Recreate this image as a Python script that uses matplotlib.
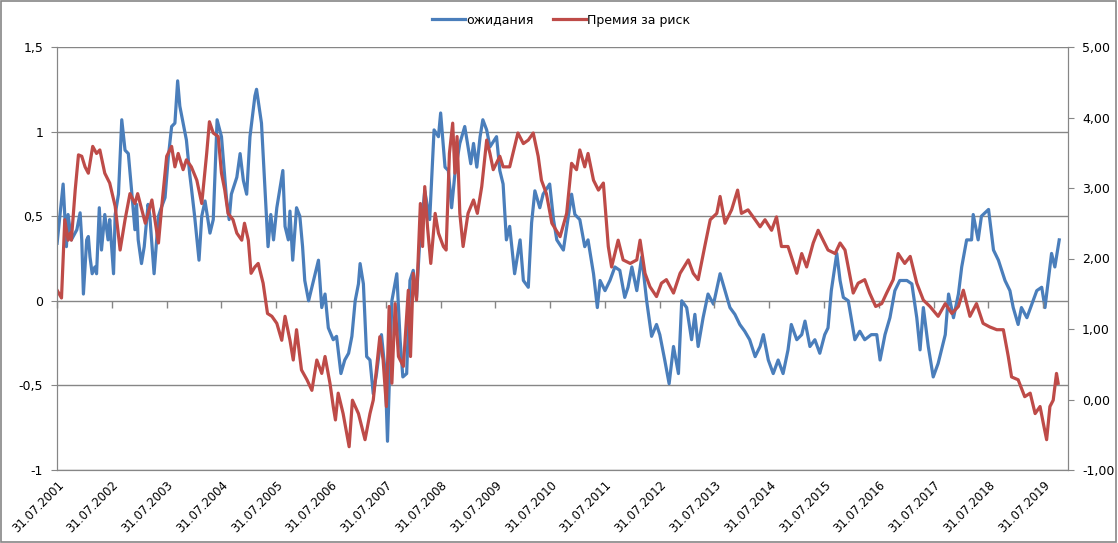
import matplotlib
matplotlib.use("Agg")
import matplotlib.pyplot as plt
from matplotlib.ticker import FuncFormatter
from matplotlib.patches import Rectangle

# ожидания (left axis), (decimal year, value)
blue_pts = [
    (2001.58, 0.34), (2001.69, 0.69), (2001.75, 0.32), (2001.78, 0.51), (2001.84, 0.36),
    (2001.94, 0.42), (2002.00, 0.52), (2002.03, 0.36), (2002.06, 0.04), (2002.12, 0.36),
    (2002.15, 0.38), (2002.18, 0.26), (2002.22, 0.16), (2002.27, 0.20), (2002.30, 0.16),
    (2002.35, 0.55), (2002.39, 0.30), (2002.45, 0.51), (2002.51, 0.36), (2002.54, 0.48),
    (2002.61, 0.16), (2002.64, 0.51), (2002.70, 0.63), (2002.76, 1.07), (2002.82, 0.89),
    (2002.88, 0.87), (2002.94, 0.65), (2003.00, 0.42), (2003.03, 0.57), (2003.06, 0.36),
    (2003.12, 0.22), (2003.17, 0.32), (2003.24, 0.57), (2003.27, 0.51), (2003.35, 0.16),
    (2003.43, 0.50), (2003.47, 0.54), (2003.55, 0.61), (2003.61, 0.85), (2003.67, 1.03),
    (2003.73, 1.05), (2003.78, 1.30), (2003.82, 1.15), (2003.88, 1.05), (2003.94, 0.95),
    (2004.00, 0.75), (2004.03, 0.67), (2004.09, 0.50), (2004.17, 0.24), (2004.22, 0.50),
    (2004.28, 0.59), (2004.37, 0.40), (2004.43, 0.48), (2004.50, 1.07), (2004.58, 0.97),
    (2004.67, 0.61), (2004.72, 0.48), (2004.76, 0.63), (2004.86, 0.73), (2004.92, 0.87),
    (2004.98, 0.71), (2005.04, 0.63), (2005.10, 0.97), (2005.19, 1.21), (2005.22, 1.25),
    (2005.31, 1.05), (2005.37, 0.69), (2005.43, 0.32), (2005.48, 0.51), (2005.53, 0.36),
    (2005.59, 0.55), (2005.63, 0.63), (2005.70, 0.77), (2005.74, 0.44), (2005.80, 0.36),
    (2005.83, 0.53), (2005.88, 0.24), (2005.95, 0.55), (2006.01, 0.50), (2006.06, 0.32),
    (2006.10, 0.12), (2006.17, 0.00), (2006.26, 0.12), (2006.35, 0.24), (2006.41, -0.04),
    (2006.47, 0.04), (2006.53, -0.16), (2006.62, -0.23), (2006.68, -0.21), (2006.76, -0.43),
    (2006.83, -0.35), (2006.90, -0.31), (2006.96, -0.21), (2007.02, 0.00), (2007.08, 0.10),
    (2007.11, 0.22), (2007.17, 0.10), (2007.23, -0.33), (2007.29, -0.35), (2007.35, -0.55),
    (2007.41, -0.43), (2007.50, -0.20), (2007.57, -0.43), (2007.61, -0.83), (2007.69, 0.00),
    (2007.78, 0.16), (2007.84, -0.23), (2007.89, -0.45), (2007.96, -0.43), (2008.02, 0.12),
    (2008.08, 0.18), (2008.14, 0.02), (2008.20, 0.36), (2008.29, 0.65), (2008.38, 0.48),
    (2008.46, 1.01), (2008.54, 0.97), (2008.58, 1.11), (2008.66, 0.79), (2008.72, 0.77),
    (2008.78, 0.55), (2008.84, 0.75), (2008.93, 0.93), (2009.02, 1.03), (2009.13, 0.81),
    (2009.18, 0.93), (2009.24, 0.79), (2009.30, 0.97), (2009.35, 1.07), (2009.42, 1.01),
    (2009.48, 0.91), (2009.60, 0.97), (2009.66, 0.77), (2009.72, 0.69), (2009.78, 0.36),
    (2009.84, 0.44), (2009.93, 0.16), (2010.03, 0.36), (2010.09, 0.12), (2010.18, 0.08),
    (2010.24, 0.46), (2010.30, 0.65), (2010.39, 0.55), (2010.45, 0.63), (2010.57, 0.69),
    (2010.64, 0.48), (2010.70, 0.36), (2010.82, 0.30), (2010.97, 0.63), (2011.03, 0.51),
    (2011.12, 0.48), (2011.21, 0.32), (2011.27, 0.36), (2011.37, 0.16), (2011.44, -0.04),
    (2011.49, 0.12), (2011.58, 0.06), (2011.67, 0.12), (2011.76, 0.20), (2011.85, 0.18),
    (2011.94, 0.02), (2012.00, 0.08), (2012.07, 0.20), (2012.16, 0.06), (2012.25, 0.26),
    (2012.34, 0.00), (2012.43, -0.21), (2012.52, -0.14), (2012.58, -0.20), (2012.67, -0.35),
    (2012.75, -0.49), (2012.83, -0.27), (2012.92, -0.43), (2012.98, 0.00), (2013.07, -0.04),
    (2013.16, -0.23), (2013.22, -0.08), (2013.28, -0.27), (2013.37, -0.10), (2013.46, 0.04),
    (2013.56, -0.02), (2013.68, 0.16), (2013.77, 0.06), (2013.86, -0.04), (2013.95, -0.08),
    (2014.04, -0.14), (2014.13, -0.18), (2014.22, -0.23), (2014.32, -0.33), (2014.41, -0.27),
    (2014.47, -0.20), (2014.56, -0.35), (2014.65, -0.43), (2014.74, -0.35), (2014.83, -0.43),
    (2014.92, -0.29), (2014.98, -0.14), (2015.08, -0.23), (2015.17, -0.20), (2015.23, -0.12),
    (2015.32, -0.27), (2015.41, -0.23), (2015.50, -0.31), (2015.59, -0.20), (2015.65, -0.16),
    (2015.71, 0.06), (2015.81, 0.28), (2015.87, 0.12), (2015.93, 0.02), (2016.02, 0.00),
    (2016.14, -0.23), (2016.23, -0.18), (2016.32, -0.23), (2016.44, -0.20), (2016.54, -0.20),
    (2016.60, -0.35), (2016.69, -0.20), (2016.78, -0.10), (2016.87, 0.06), (2016.96, 0.12),
    (2017.09, 0.12), (2017.18, 0.10), (2017.27, -0.10), (2017.33, -0.29), (2017.39, -0.04),
    (2017.48, -0.27), (2017.57, -0.45), (2017.66, -0.37), (2017.79, -0.20), (2017.85, 0.04),
    (2017.94, -0.10), (2018.03, 0.04), (2018.09, 0.20), (2018.18, 0.36), (2018.27, 0.36),
    (2018.30, 0.51), (2018.39, 0.36), (2018.45, 0.50), (2018.58, 0.54), (2018.67, 0.30),
    (2018.76, 0.24), (2018.88, 0.12), (2018.97, 0.06), (2019.03, -0.04), (2019.12, -0.14),
    (2019.18, -0.04), (2019.28, -0.10), (2019.37, -0.02), (2019.46, 0.06), (2019.55, 0.08),
    (2019.61, -0.04), (2019.67, 0.12), (2019.73, 0.28), (2019.79, 0.20), (2019.87, 0.36),
]

# Премия за риск (right axis), (decimal year, value)
red_pts = [
    (2001.58, 1.55), (2001.66, 1.44), (2001.72, 2.55), (2001.78, 2.26), (2001.82, 2.36),
    (2001.84, 2.26), (2001.91, 2.97), (2001.97, 3.47), (2002.03, 3.45), (2002.09, 3.30),
    (2002.15, 3.21), (2002.23, 3.59), (2002.30, 3.49), (2002.36, 3.54), (2002.45, 3.21),
    (2002.54, 3.07), (2002.64, 2.74), (2002.73, 2.12), (2002.82, 2.55), (2002.91, 2.92),
    (2003.00, 2.78), (2003.05, 2.92), (2003.19, 2.50), (2003.31, 2.83), (2003.43, 2.22),
    (2003.49, 2.74), (2003.58, 3.45), (2003.67, 3.59), (2003.73, 3.30), (2003.79, 3.49),
    (2003.88, 3.26), (2003.94, 3.40), (2004.03, 3.30), (2004.13, 3.11), (2004.22, 2.78),
    (2004.31, 3.49), (2004.36, 3.94), (2004.43, 3.78), (2004.52, 3.73), (2004.58, 3.21),
    (2004.64, 2.97), (2004.70, 2.64), (2004.79, 2.55), (2004.86, 2.36), (2004.95, 2.26),
    (2005.00, 2.50), (2005.07, 2.26), (2005.12, 1.79), (2005.19, 1.88), (2005.25, 1.93),
    (2005.34, 1.65), (2005.42, 1.22), (2005.50, 1.18), (2005.59, 1.08), (2005.68, 0.84),
    (2005.74, 1.18), (2005.83, 0.84), (2005.89, 0.56), (2005.95, 0.99), (2006.04, 0.42),
    (2006.14, 0.28), (2006.23, 0.13), (2006.32, 0.56), (2006.41, 0.37), (2006.47, 0.61),
    (2006.56, 0.23), (2006.62, -0.10), (2006.66, -0.29), (2006.71, 0.09), (2006.80, -0.20),
    (2006.91, -0.67), (2006.97, -0.01), (2007.08, -0.20), (2007.17, -0.48), (2007.20, -0.57),
    (2007.29, -0.20), (2007.35, -0.01), (2007.47, 0.89), (2007.53, 0.56), (2007.59, -0.10),
    (2007.64, 1.32), (2007.69, 0.23), (2007.75, 1.36), (2007.81, 0.61), (2007.90, 0.47),
    (2007.99, 1.55), (2008.03, 0.61), (2008.08, 1.79), (2008.14, 1.41), (2008.21, 2.78),
    (2008.25, 2.17), (2008.29, 3.02), (2008.34, 2.45), (2008.40, 1.93), (2008.48, 2.64),
    (2008.54, 2.36), (2008.63, 2.17), (2008.68, 2.12), (2008.74, 3.49), (2008.80, 3.92),
    (2008.84, 3.21), (2008.88, 3.73), (2008.93, 2.64), (2008.99, 2.17), (2009.08, 2.64),
    (2009.18, 2.83), (2009.25, 2.64), (2009.33, 3.02), (2009.42, 3.68), (2009.48, 3.49),
    (2009.54, 3.26), (2009.66, 3.45), (2009.72, 3.30), (2009.84, 3.30), (2009.99, 3.78),
    (2010.09, 3.63), (2010.18, 3.68), (2010.27, 3.78), (2010.36, 3.45), (2010.42, 3.11),
    (2010.51, 2.92), (2010.61, 2.50), (2010.76, 2.31), (2010.88, 2.64), (2010.97, 3.35),
    (2011.06, 3.26), (2011.12, 3.54), (2011.21, 3.30), (2011.27, 3.49), (2011.37, 3.11),
    (2011.46, 2.97), (2011.55, 3.07), (2011.64, 2.17), (2011.70, 1.88), (2011.82, 2.26),
    (2011.91, 1.98), (2012.04, 1.93), (2012.16, 1.98), (2012.22, 2.26), (2012.31, 1.79),
    (2012.40, 1.60), (2012.52, 1.46), (2012.61, 1.65), (2012.70, 1.70), (2012.83, 1.51),
    (2012.95, 1.79), (2013.10, 1.98), (2013.19, 1.79), (2013.28, 1.70), (2013.40, 2.17),
    (2013.50, 2.55), (2013.62, 2.64), (2013.68, 2.88), (2013.77, 2.50), (2013.89, 2.69),
    (2014.00, 2.97), (2014.07, 2.64), (2014.19, 2.69), (2014.32, 2.55), (2014.41, 2.45),
    (2014.50, 2.55), (2014.62, 2.40), (2014.71, 2.59), (2014.80, 2.17), (2014.92, 2.17),
    (2015.08, 1.79), (2015.17, 2.07), (2015.26, 1.88), (2015.38, 2.22), (2015.47, 2.40),
    (2015.56, 2.26), (2015.65, 2.12), (2015.78, 2.07), (2015.87, 2.22), (2015.96, 2.12),
    (2016.11, 1.51), (2016.20, 1.65), (2016.32, 1.70), (2016.41, 1.51), (2016.52, 1.32),
    (2016.63, 1.36), (2016.72, 1.51), (2016.84, 1.70), (2016.93, 2.07), (2017.05, 1.93),
    (2017.15, 2.03), (2017.27, 1.65), (2017.39, 1.41), (2017.51, 1.32), (2017.66, 1.18),
    (2017.79, 1.36), (2017.91, 1.22), (2018.03, 1.32), (2018.12, 1.55), (2018.24, 1.18),
    (2018.36, 1.36), (2018.48, 1.08), (2018.60, 1.03), (2018.73, 0.99), (2018.85, 0.99),
    (2018.94, 0.61), (2019.00, 0.32), (2019.12, 0.28), (2019.24, 0.04), (2019.34, 0.09),
    (2019.43, -0.20), (2019.52, -0.10), (2019.58, -0.34), (2019.64, -0.57), (2019.70, -0.10),
    (2019.76, -0.01), (2019.82, 0.37), (2019.85, 0.23),
]

tick_years = list(range(2001, 2020))
tick_labels = [f"31.07.{y}" for y in tick_years]

blue_t, blue_v = zip(*blue_pts)
red_t, red_v = zip(*red_pts)

BLUE = "#4A7EBB"
RED = "#BE4B48"
GRAY = "#868686"

plt.rcParams["font.family"] = ["DejaVu Sans"]

fig = plt.figure(figsize=(11.18, 5.43), dpi=100)
ax = fig.add_axes([57 / 1118, 1 - 470 / 543, (1068 - 57) / 1118, (470 - 47) / 543])
ax2 = ax.twinx()

ax.plot(blue_t, blue_v, color=BLUE, lw=2.3, label="ожидания", solid_joinstyle="round")
ax2.plot(red_t, red_v, color=RED, lw=2.3, label="Премия за риск", solid_joinstyle="round")

tick_pos = [y + 211 / 365 for y in tick_years]
ax.set_xlim(tick_pos[0], 2020.03)
ax.set_ylim(-1, 1.5)
ax2.set_ylim(-1, 5)

ax.set_yticks([-1, -0.5, 0, 0.5, 1, 1.5])
ax2.set_yticks([-1, 0, 1, 2, 3, 4, 5])
fmt_left = FuncFormatter(lambda v, p: f"{v:g}".replace(".", ","))
fmt_right = FuncFormatter(lambda v, p: f"{v:.2f}".replace(".", ","))
ax.yaxis.set_major_formatter(fmt_left)
ax2.yaxis.set_major_formatter(fmt_right)

ax.grid(axis="y", color=GRAY, lw=1)
ax.set_axisbelow(True)

ax.set_xticks(tick_pos)
ax.set_xticklabels(tick_labels, rotation=45, ha="right", rotation_mode="anchor", fontsize=8.5)
ax.tick_params(axis="x", length=0, pad=6)
ax.tick_params(axis="y", length=4, color=GRAY, labelsize=9, pad=6)
ax2.tick_params(axis="y", length=4, color=GRAY, labelsize=9, pad=6)

# category axis crosses at 0: tick marks below the zero line
ax.plot(tick_pos, [0] * len(tick_pos), ls="none", marker=3, ms=5, mew=1, color=GRAY, clip_on=False)

for a in (ax, ax2):
    for s in a.spines.values():
        s.set_color(GRAY)
    a.spines["top"].set_visible(False)

fig.legend(handles=ax.get_lines()[:1] + ax2.get_lines(), loc="center", bbox_to_anchor=(0.502, 0.963),
           ncol=2, frameon=False, fontsize=9, handlelength=2.6, handletextpad=0.1, columnspacing=1.6)

fig.patches.append(Rectangle((0.0005, 0.001), 0.998, 0.997, transform=fig.transFigure,
                             fill=False, edgecolor=GRAY, lw=1.2))

fig.savefig("out.png", dpi=100)
